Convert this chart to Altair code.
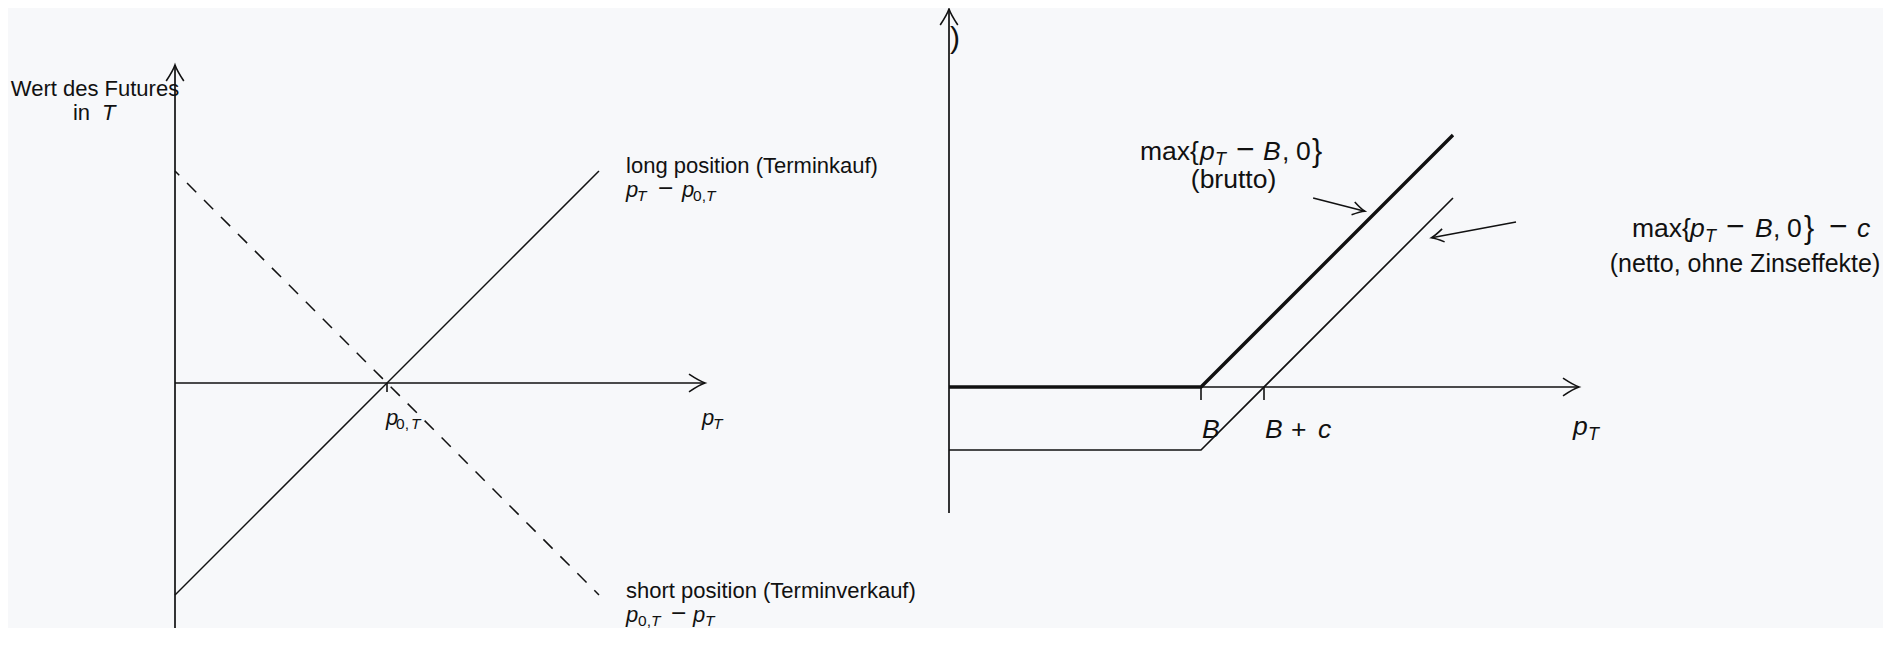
import altair as alt
import pandas as pd

# ---------------- data ----------------
# left panel: value of a futures position at T
LEFT_PRICE = [0, 4]            # p_T
LEFT_LONG = [-2, 2]            # p_T - p_0,T
LEFT_SHORT = [2, -2]           # p_0,T - p_T
LEFT_STRIKE = [2]              # p_0,T
LEFT_XAXIS_X = [0, 5]
LEFT_YAXIS_Y = [-2.4, 3]

# right panel: call payoff, gross and net
RIGHT_PRICE = [0, 4, 8]
RIGHT_BRUTTO = [0, 0, 4]       # max{p_T - B, 0}
RIGHT_NETTO = [-1, -1, 3]      # max{p_T - B, 0} - c
RIGHT_TICKS = [4, 5]           # B, B + c
RIGHT_XAXIS_X = [0, 10]
RIGHT_YAXIS_Y = [-2, 6]
ARROW_BRUTTO_X = [5.78, 6.60]
ARROW_BRUTTO_Y = [3.00, 2.79]
ARROW_NETTO_X = [9.00, 7.66]
ARROW_NETTO_Y = [2.62, 2.37]

# label texts
Y_TITLE = ["Wert des Futures", "in", "T"]
LONG_TEXT = "long position (Terminkauf)"
LONG_FORMULA = ["p", "T", "\u2212", "p", "0,", "T"]
SHORT_TEXT = "short position (Terminverkauf)"
SHORT_FORMULA = ["p", "0,", "T", "\u2212", "p", "T"]
LEFT_TICK_LABEL = ["p", "0,", "T"]
LEFT_X_LABEL = ["p", "T"]
BRUTTO_FORMULA = ["max{", "p", "T", "\u2212", "B", ",", "0", "}"]
BRUTTO_TEXT = "(brutto)"
NETTO_FORMULA = ["max{", "p", "T", "\u2212", "B", ",", "0", "}", "\u2212", "c"]
NETTO_TEXT = "(netto, ohne Zinseffekte)"
B_LABEL = ["B"]
BC_LABEL = ["B", "+", "c"]
RIGHT_X_LABEL = ["p", "T"]
CUT_LABEL = ")"

# label anchors (data units of each panel)
Y_TITLE_AT = [(-0.755, 2.71), (-0.755, 2.481)]
LONG_AT = [(4.255, 1.984), (4.255, 1.755)]
SHORT_AT = [(4.255, -2.031), (4.255, -2.252)]
LEFT_TICK_AT = (1.991, -0.392)
LEFT_X_AT = (4.972, -0.392)
BRUTTO_AT = [(3.032, 3.603), (4.516, 3.159)]
NETTO_AT = [(10.841, 2.381), (12.635, 1.833)]
B_AT = (4.016, -0.810)
BC_AT = (5.016, -0.810)
RIGHT_X_AT = (9.905, -0.762)
CUT_AT = (0.095, 5.524)

# ---------------- layout / style ----------------
W, H = 1875, 620
PX0, PY0 = 8, 8
L_ORIGIN, L_UNIT = (175, 383), 106
R_ORIGIN, R_UNIT = (949, 387), 63
INK = "#111111"
BG = "#f7f8fa"
FONT = "Liberation Sans"
ARROW = "M -1 -0.55 Q -0.35 -0.12 0 0 Q -0.35 0.12 -1 0.55"


def make_scales(origin, unit):
    ox, oy = origin
    sx = alt.Scale(domain=[(PX0 - ox) / unit, (PX0 + W - ox) / unit], nice=False, zero=False)
    sy = alt.Scale(domain=[(oy - (PY0 + H)) / unit, (oy - PY0) / unit], nice=False, zero=False)
    return sx, sy


def enc(sx, sy):
    return dict(x=alt.X("x:Q", scale=sx, axis=None), y=alt.Y("y:Q", scale=sy, axis=None))


def line(xs, ys, sx, sy, **kw):
    df = pd.DataFrame({"x": xs, "y": ys, "o": list(range(len(xs)))})
    return alt.Chart(df).mark_line(color=INK, **kw).encode(order="o:Q", **enc(sx, sy))


def head(x, y, sx, sy, angle, size, sw=1.6):
    df = pd.DataFrame({"x": [x], "y": [y]})
    return alt.Chart(df).mark_point(shape=ARROW, size=size, angle=angle, filled=False,
                                    stroke=INK, strokeWidth=sw, opacity=1).encode(**enc(sx, sy))


def ticks(xs, sx, sy, size):
    df = pd.DataFrame({"x": xs, "y": [0] * len(xs)})
    return alt.Chart(df).mark_tick(orient="vertical", size=size, thickness=1.6, yOffset=size / 2,
                                   color=INK, opacity=1).encode(**enc(sx, sy))


def text(at, s, sx, sy, size, italic=False, dx=0, dy=0, align="left", baseline="alphabetic"):
    df = pd.DataFrame({"x": [at[0]], "y": [at[1]], "t": [s]})
    return alt.Chart(df).mark_text(font=FONT, fontSize=size,
                                   fontStyle="italic" if italic else "normal",
                                   align=align, baseline=baseline, dx=dx, dy=dy,
                                   color=INK).encode(text="t:N", **enc(sx, sy))


def runs(at, texts, dxs, styles, sx, sy, main, sub, subdy):
    out = []
    for t, dx, st in zip(texts, dxs, styles):
        if st == "m":
            size, dy = main * 1.2, 0
        elif st == "b":
            size, dy = main * 1.15, 1
        elif st.startswith("s"):
            size, dy = sub, subdy
        else:
            size, dy = main, 0
        out.append(text(at, t, sx, sy, size, italic=st.endswith("i"), dx=dx, dy=dy))
    return out


# ---------------- left panel ----------------
lx, ly = make_scales(L_ORIGIN, L_UNIT)
LM, LS, LD = 22, 15.5, 4.5
left_layers = [
    line(LEFT_XAXIS_X, [0, 0], lx, ly, strokeWidth=1.7),
    line([0, 0], LEFT_YAXIS_Y, lx, ly, strokeWidth=1.7),
    head(LEFT_XAXIS_X[1], 0, lx, ly, 0, 1024),
    head(0, LEFT_YAXIS_Y[1], lx, ly, 270, 1024),
    line(LEFT_PRICE, LEFT_LONG, lx, ly, strokeWidth=1.5),
    line(LEFT_PRICE, LEFT_SHORT, lx, ly, strokeWidth=1.5, strokeDash=[13, 11], strokeDashOffset=7),
    ticks(LEFT_STRIKE, lx, ly, 9),
    text(Y_TITLE_AT[0], Y_TITLE[0], lx, ly, LM, align="center"),
    text(Y_TITLE_AT[1], Y_TITLE[1], lx, ly, LM, dx=-22),
    text(Y_TITLE_AT[1], Y_TITLE[2], lx, ly, LM, italic=True, dx=7),
    text(LONG_AT[0], LONG_TEXT, lx, ly, LM),
    text(SHORT_AT[0], SHORT_TEXT, lx, ly, LM),
]
left_layers += runs(LONG_AT[1], LONG_FORMULA, [0, 11, 32, 56, 67, 80],
                    ["i", "si", "m", "i", "sn", "si"], lx, ly, LM, LS, LD)
left_layers += runs(SHORT_AT[1], SHORT_FORMULA, [0, 12, 25, 45, 67, 79],
                    ["i", "sn", "si", "m", "i", "si"], lx, ly, LM, LS, LD)
left_layers += runs(LEFT_TICK_AT, LEFT_TICK_LABEL, [0, 10, 25], ["i", "sn", "si"], lx, ly, LM, LS, LD)
left_layers += runs(LEFT_X_AT, LEFT_X_LABEL, [0, 11], ["i", "si"], lx, ly, LM, LS, LD)
left = alt.layer(*left_layers)

# ---------------- right panel ----------------
rx, ry = make_scales(R_ORIGIN, R_UNIT)
RM, RS, RD = 26.5, 18, 5
right_layers = [
    line(RIGHT_XAXIS_X, [0, 0], rx, ry, strokeWidth=1.7),
    line([0, 0], RIGHT_YAXIS_Y, rx, ry, strokeWidth=1.7),
    head(RIGHT_XAXIS_X[1], 0, rx, ry, 0, 1024),
    head(0, RIGHT_YAXIS_Y[1], rx, ry, 270, 1024),
    line(RIGHT_PRICE, RIGHT_NETTO, rx, ry, strokeWidth=1.6),
    line(RIGHT_PRICE, RIGHT_BRUTTO, rx, ry, strokeWidth=3.4),
    ticks(RIGHT_TICKS, rx, ry, 13),
    line(ARROW_BRUTTO_X, ARROW_BRUTTO_Y, rx, ry, strokeWidth=1.6),
    head(ARROW_BRUTTO_X[1], ARROW_BRUTTO_Y[1], rx, ry, 14, 576),
    line(ARROW_NETTO_X, ARROW_NETTO_Y, rx, ry, strokeWidth=1.6),
    head(ARROW_NETTO_X[1], ARROW_NETTO_Y[1], rx, ry, 169, 576),
    text(BRUTTO_AT[1], BRUTTO_TEXT, rx, ry, RM, align="center"),
    text(NETTO_AT[1], NETTO_TEXT, rx, ry, 25, align="center"),
    text(CUT_AT, CUT_LABEL, rx, ry, 30, baseline="middle", align="center"),
]
right_layers += runs(BRUTTO_AT[0], BRUTTO_FORMULA, [0, 60, 75, 96, 123, 142, 156, 172],
                     ["n", "i", "si", "m", "i", "n", "n", "b"], rx, ry, RM, RS, RD)
right_layers += runs(NETTO_AT[0], NETTO_FORMULA, [0, 58, 73, 94, 123, 141, 155, 172, 197, 225],
                     ["n", "i", "si", "m", "i", "n", "n", "b", "m", "i"], rx, ry, RM, RS, RD)
right_layers += runs(B_AT, B_LABEL, [0], ["i"], rx, ry, RM, RS, RD)
right_layers += runs(BC_AT, BC_LABEL, [0, 26, 53], ["i", "n", "i"], rx, ry, RM, RS, RD)
right_layers += runs(RIGHT_X_AT, RIGHT_X_LABEL, [0, 15], ["i", "si"], rx, ry, RM, RS, RD)
right = alt.layer(*right_layers)

chart = (
    alt.layer(left, right)
    .resolve_scale(x="independent", y="independent")
    .properties(width=W, height=H, padding=0, background=BG,
                autosize=alt.AutoSizeParams(type="none"))
    .configure_view(stroke=None)
)

chart.save("out.html", embed_options={"renderer": "svg", "actions": False})
